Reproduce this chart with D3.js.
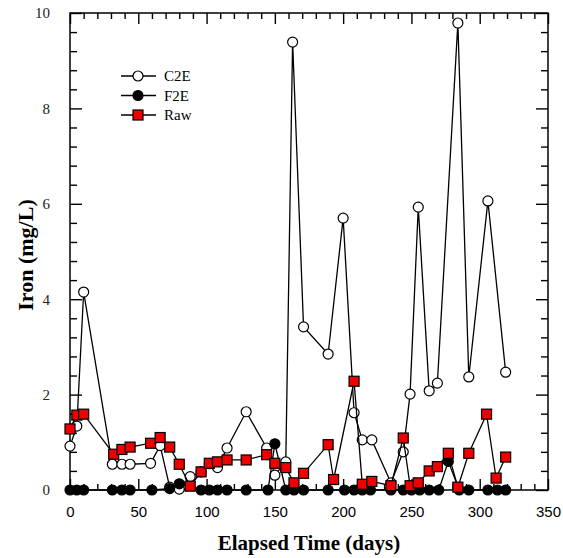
<!DOCTYPE html>
<html><head><meta charset="utf-8">
<script src="https://cdn.jsdelivr.net/npm/d3@7"></script>
<style>body{margin:0;background:#fff}svg{display:block}</style>
</head><body>
<svg id="c" width="563" height="558"></svg>
<script>
const xTicks = [0, 50, 100, 150, 200, 250, 300, 350];
const yTicks = [0, 2, 4, 6, 8, 10];
const seriesNames = ["C2E", "F2E", "Raw"];

const c2eDays = [0,5,10,31,38,44,59,66,73,80,88,96,102,108,115,129,144,150,158,163,171,189,200,208,214,221,235,244,249,255,263,269,284,292,306,319];
const c2eVals = [0.92,1.34,4.15,0.54,0.54,0.54,0.56,0.93,0.06,0.02,0.28,0.38,0.55,0.47,0.88,1.64,0.88,0.31,0.59,9.39,3.42,2.85,5.7,1.62,1.05,1.05,0.15,0.8,2.01,5.93,2.08,2.24,9.79,2.37,6.06,2.47];

const f2eDays = [0,5,10,31,38,44,60,73,80,96,102,108,115,129,145,150,158,164,171,189,201,208,214,220,235,244,250,256,263,270,277,285,292,306,313,319];
const f2eVals = [0,0,0,0,0,0,0,0.03,0.13,0,0,0,0,0,0,0.97,0,0,0,0,0,0,0,0,0,0,0,0,0,0,0.6,0,0,0,0,0];

const rawDays = [0,5,10,32,38,44,59,66,73,80,88,96,102,108,115,129,144,150,158,164,171,189,193,208,214,221,235,244,249,255,263,269,277,284,292,305,312,319];
const rawVals = [1.28,1.57,1.59,0.75,0.85,0.9,0.98,1.1,0.9,0.54,0.08,0.38,0.56,0.59,0.63,0.63,0.74,0.56,0.47,0.15,0.35,0.95,0.22,2.28,0.12,0.18,0.09,1.09,0.09,0.15,0.4,0.49,0.77,0.06,0.77,1.59,0.25,0.69];

const svg = d3.select("#c");
const L = 70, R = 548, T = 13, B = 490;
const x = d3.scaleLinear().domain([0, 350]).range([L, R]);
const y = d3.scaleLinear().domain([0, 10]).range([B, T]);

const serif = "'Liberation Serif','Times New Roman',serif";
const sans = "'Liberation Sans',Arial,sans-serif";

const minorX = d3.range(0, 351, 10).filter(v => v % 50 !== 0);
const minorY = d3.range(0, 10.01, 0.4).map(v => +v.toFixed(1)).filter(v => Math.abs(v/2 - Math.round(v/2)) > 1e-6);

function axisG(axis, tx, ty) {
  const g = svg.append("g").attr("transform", `translate(${tx},${ty})`).call(axis);
  g.select(".domain").remove();
  g.selectAll("line").attr("stroke", "#000").attr("stroke-width", 1.4);
  return g;
}
const gb = axisG(d3.axisBottom(x).tickValues(xTicks).tickSize(-11).tickPadding(16).tickFormat(d3.format("d")), 0, B);
gb.selectAll("text").attr("font-family", sans).attr("font-size", 15).attr("fill", "#000");
axisG(d3.axisBottom(x).tickValues(minorX).tickSize(-6).tickFormat(""), 0, B);
axisG(d3.axisTop(x).tickValues(xTicks).tickSize(-11).tickFormat(""), 0, T);
axisG(d3.axisTop(x).tickValues(minorX).tickSize(-6).tickFormat(""), 0, T);
const gl = axisG(d3.axisLeft(y).tickValues(yTicks).tickSize(-12).tickPadding(20).tickFormat(d3.format("d")), L, 0);
gl.selectAll("text").attr("font-family", serif).attr("font-size", 15).attr("fill", "#222");
axisG(d3.axisLeft(y).tickValues(minorY).tickSize(-7).tickFormat(""), L, 0);
axisG(d3.axisRight(y).tickValues(yTicks).tickSize(-12).tickFormat(""), R, 0);
axisG(d3.axisRight(y).tickValues(minorY).tickSize(-7).tickFormat(""), R, 0);

svg.append("rect").attr("x", L).attr("y", T).attr("width", R - L).attr("height", B - T)
  .attr("fill", "none").attr("stroke", "#000").attr("stroke-width", 1.5);

const line = d3.line().x(d => x(d[0])).y(d => y(d[1]));
const zip = (a, b) => a.map((d, i) => [d, b[i]]);
const data = [zip(c2eDays, c2eVals), zip(f2eDays, f2eVals), zip(rawDays, rawVals)];
const styles = [
  {type: "circle", fill: "#fff"},
  {type: "circle", fill: "#000"},
  {type: "square", fill: "#ee0000"}
];
function marker(g, type, fill, cx, cy) {
  if (type === "circle") {
    g.append("circle").attr("cx", cx).attr("cy", cy).attr("r", 5)
      .attr("fill", fill).attr("stroke", "#000").attr("stroke-width", 1.2);
  } else {
    g.append("rect").attr("x", cx - 5).attr("y", cy - 5).attr("width", 10).attr("height", 10)
      .attr("fill", fill).attr("stroke", "#000").attr("stroke-width", 1.2);
  }
}
data.forEach((pts, i) => {
  const g = svg.append("g");
  g.append("path").attr("d", line(pts)).attr("fill", "none").attr("stroke", "#000").attr("stroke-width", 1.3);
  pts.forEach(p => marker(g, styles[i].type, styles[i].fill, x(p[0]), y(p[1])));
});

const lg = svg.append("g");
seriesNames.forEach((name, i) => {
  const cy = 76 + i * 19.5;
  lg.append("line").attr("x1", 121).attr("x2", 156).attr("y1", cy).attr("y2", cy)
    .attr("stroke", "#000").attr("stroke-width", 1.3);
  marker(lg, styles[i].type, styles[i].fill, 138, cy);
  lg.append("text").attr("x", 164).attr("y", cy + 5).attr("font-family", serif)
    .attr("font-size", 15).text(name);
});

svg.append("text").attr("x", 309).attr("y", 550).attr("text-anchor", "middle")
  .attr("font-family", serif).attr("font-weight", "bold").attr("font-size", 21)
  .text("Elapsed Time (days)");
svg.append("text").attr("transform", "translate(33,255) rotate(-90)").attr("text-anchor", "middle")
  .attr("font-family", serif).attr("font-weight", "bold").attr("font-size", 22)
  .text("Iron (mg/L)");
</script>
</body></html>
